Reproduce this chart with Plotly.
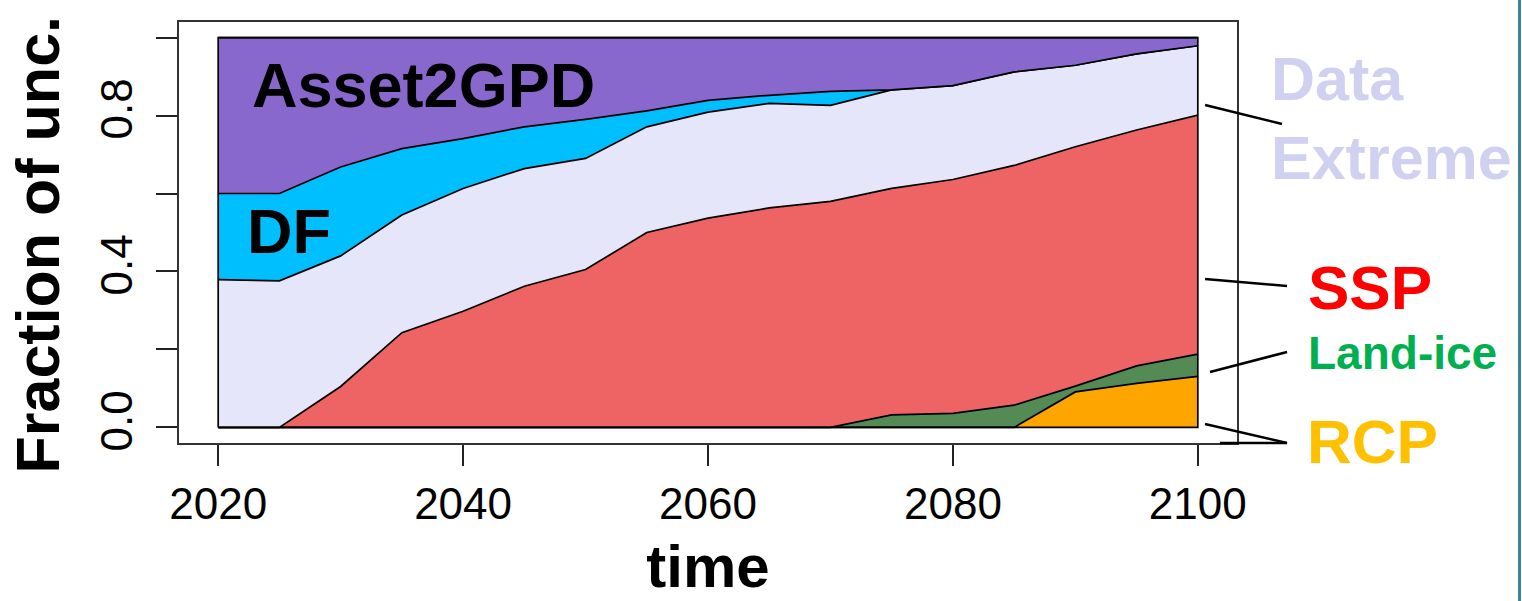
import plotly.graph_objects as go

# Uncertainty decomposition: fraction of total uncertainty per source, by year
years = [2020, 2025, 2030, 2035, 2040, 2045, 2050, 2055, 2060,
         2065, 2070, 2075, 2080, 2085, 2090, 2095, 2100]

rcp = [0, 0, 0, 0, 0, 0, 0, 0, 0, 0, 0, 0, 0, 0, 0.091, 0.113, 0.131]
land_ice = [0, 0, 0, 0, 0, 0, 0, 0, 0, 0, 0, 0.032, 0.036, 0.057, 0.015, 0.045, 0.057]
ssp = [0, 0, 0.105, 0.243, 0.298, 0.362, 0.405, 0.500, 0.537,
       0.563, 0.580, 0.581, 0.600, 0.615, 0.614, 0.605, 0.613]
data_extreme = [0.379, 0.376, 0.335, 0.302, 0.315, 0.302, 0.285, 0.271, 0.272,
                0.268, 0.246, 0.253, 0.241, 0.240, 0.209, 0.195, 0.178]
df = [0.221, 0.224, 0.228, 0.170, 0.128, 0.107, 0.100, 0.041, 0.030,
      0.021, 0.036, 0, 0, 0, 0, 0, 0]
asset2gpd = [0.400, 0.400, 0.332, 0.285, 0.259, 0.229, 0.210, 0.188, 0.161,
             0.148, 0.138, 0.134, 0.123, 0.088, 0.071, 0.042, 0.021]

layers = [
    ("RCP", rcp, "#FFA500"),
    ("Land-ice", land_ice, "#548B54"),
    ("SSP", ssp, "#EE6363"),
    ("Data Extreme", data_extreme, "#E6E6FA"),
    ("DF", df, "#00BFFF"),
    ("Asset2GPD", asset2gpd, "#8968CD"),
]

y_ticks = [0, 0.2, 0.4, 0.6, 0.8, 1.0]
y_tick_text = ["0.0", "", "0.4", "", "0.8", ""]
x_ticks = [2020, 2040, 2060, 2080, 2100]

FONT = "Arial, Liberation Sans, sans-serif"

fig = go.Figure()
for name, vals, col in layers:
    fig.add_trace(go.Scatter(
        x=years, y=vals, name=name, stackgroup="unc", mode="lines",
        fillcolor=col, line=dict(color="black", width=1.7),
        hoverinfo="x+y+name",
    ))

# outline of the stacked polygon (left / right / bottom edges)
fig.add_trace(go.Scatter(
    x=[years[0], years[-1], years[-1], years[0], years[0]],
    y=[0, 0, 1, 1, 0], mode="lines",
    line=dict(color="black", width=1.7), hoverinfo="skip", showlegend=False,
))

fig.update_layout(
    width=1522, height=601,
    margin=dict(l=179, r=285, t=22, b=158),
    paper_bgcolor="white", plot_bgcolor="white",
    showlegend=False,
    font=dict(family=FONT, color="black"),
)

fig.update_xaxes(
    range=[2016.8, 2103.2], tickvals=x_ticks, ticks="outside", ticklen=21,
    tickwidth=1.5, tickcolor="#222", showgrid=False, zeroline=False,
    showline=True, mirror=True, linecolor="#333", linewidth=2,
    tickfont=dict(size=44, family=FONT, color="black"),
    ticklabelstandoff=0,
    title=dict(text="<b>time</b>", font=dict(size=60, family=FONT), standoff=18),
)
fig.update_yaxes(
    range=[-0.04, 1.04], tickvals=y_ticks, ticktext=y_tick_text,
    ticks="outside", ticklen=21, tickwidth=1.5, tickcolor="#222",
    tickangle=-90, showgrid=False, zeroline=False,
    showline=True, mirror=True, linecolor="#333", linewidth=2,
    tickfont=dict(size=44, family=FONT, color="black"),
    ticklabelstandoff=6,
)

# y axis title, placed left of the tick labels
fig.add_annotation(x=0, y=0.5, xref="paper", yref="paper", xshift=-142, yshift=-12,
                   text="<b>Fraction of unc.</b>", textangle=-90, showarrow=False,
                   xanchor="center", yanchor="middle",
                   font=dict(size=61, family=FONT, color="black"))

# labels inside the stacked areas
fig.add_annotation(x=2022.6, y=0.879, xref="x", yref="y", text="<b>Asset2GPD</b>",
                   showarrow=False, xanchor="left", yanchor="middle",
                   font=dict(size=63, family=FONT, color="black"))
fig.add_annotation(x=2022.2, y=0.503, xref="x", yref="y", text="<b>DF</b>",
                   showarrow=False, xanchor="left", yanchor="middle",
                   font=dict(size=63, family=FONT, color="black"))

# labels to the right of the plot
right_labels = [
    ("<b>Data<br>Extreme</b>", 1.0300, 0.7696, 61, "#D0D0F0"),
    ("<b>SSP</b>", 1.0650, 0.3694, 62, "#FF0000"),
    ("<b>Land-ice</b>", 1.0650, 0.2126, 46, "#00B050"),
    ("<b>RCP</b>", 1.0640, 0.0036, 62, "#FFC000"),
]
for txt, xp, yp, sz, col in right_labels:
    fig.add_annotation(x=xp, y=yp, xref="paper", yref="paper", text=txt,
                       showarrow=False, xanchor="left", yanchor="middle",
                       align="left", font=dict(size=sz, family=FONT, color=col))

# leader lines from the labels to the layers
leaders = [
    (0.9698, 0.8029, 1.0425, 0.7577),
    (0.9698, 0.3895, 1.0473, 0.3729),
    (0.9745, 0.1686, 1.0473, 0.2162),
    (0.9698, 0.0451, 1.0473, 0.0),
    (0.9839, 0.0, 1.0473, 0.0),
]
for x0, y0, x1, y1 in leaders:
    fig.add_shape(type="line", xref="paper", yref="paper",
                  x0=x0, y0=y0, x1=x1, y1=y1,
                  line=dict(color="black", width=2.5))

# vertical rule at the right edge of the panel
fig.add_shape(type="line", xref="paper", yref="paper",
              x0=1.2670, x1=1.2670, y0=-0.3753, y1=1.0523,
              line=dict(color="#3F7F96", width=3))

fig.write_html("out.html")
